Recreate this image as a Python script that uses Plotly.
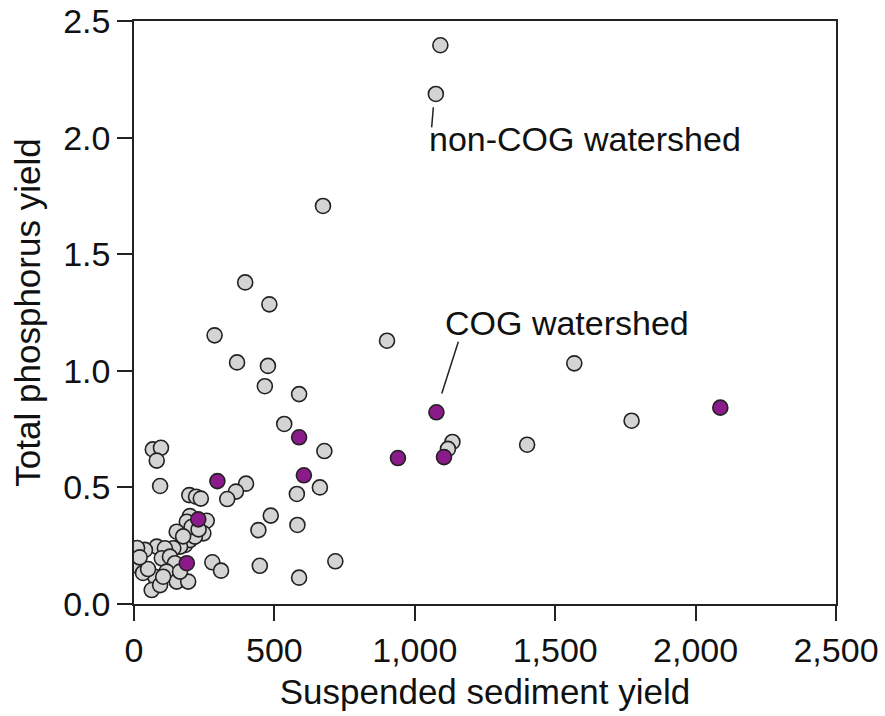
import plotly.graph_objects as go

# non-COG watersheds (gray)
noncog_x = [1091, 1075, 673, 396, 482, 287, 367, 477, 466, 588, 901, 1568, 535, 678, 662, 580,
            399, 363, 332, 487, 443, 582, 717, 448, 588, 279, 310, 1134, 1118, 1400, 1772,
            67, 96, 81, 93, 197, 221, 238, 259, 199, 188, 247, 152, 182, 199, 217, 164, 140,
            81, 110, 39, 33, 99, 128, 146, 116, 75, 63, 152, 193, 93, 104, 164,
            11, 11, 32, 50, 20, 205, 230, 175]
noncog_y = [2.396, 2.187, 1.707, 1.379, 1.285, 1.152, 1.036, 1.021, 0.934, 0.900, 1.129, 1.032, 0.772,
            0.656, 0.500, 0.472, 0.516, 0.482, 0.450, 0.379, 0.317, 0.339, 0.183, 0.164, 0.113,
            0.179, 0.143, 0.695, 0.665, 0.683, 0.786,
            0.663, 0.670, 0.615, 0.506, 0.467, 0.460, 0.452, 0.357, 0.377, 0.353, 0.303, 0.310,
            0.253, 0.274, 0.289, 0.246, 0.239, 0.246, 0.239, 0.232, 0.153, 0.196, 0.203, 0.175,
            0.139, 0.117, 0.060, 0.096, 0.096, 0.081, 0.117, 0.139,
            0.240, 0.165, 0.133, 0.150, 0.200, 0.330, 0.320, 0.290]

# COG watersheds (purple)
cog_x = [2088, 1077, 588, 605, 297, 229, 188, 940, 1104]
cog_y = [0.842, 0.822, 0.715, 0.552, 0.527, 0.363, 0.175, 0.626, 0.630]

x_ticks = [0, 500, 1000, 1500, 2000, 2500]
y_ticks = [0.0, 0.5, 1.0, 1.5, 2.0, 2.5]

FONT = "Liberation Sans, Arial, sans-serif"

fig = go.Figure()
fig.add_trace(go.Scatter(x=noncog_x, y=noncog_y, mode="markers", name="non-COG watershed",
                         marker=dict(size=15, color="#d4d4d4", line=dict(color="#222222", width=1.6))))
fig.add_trace(go.Scatter(x=cog_x, y=cog_y, mode="markers", name="COG watershed",
                         marker=dict(size=15, color="#8b1a8b", line=dict(color="#222222", width=1.6))))

# leader lines
fig.add_shape(type="line", xref="x", yref="y", x0=1096, y0=0.903, x1=1155, y1=1.125,
              line=dict(color="#222222", width=1.5))
fig.add_shape(type="line", xref="x", yref="y", x0=1066, y0=2.130, x1=1060, y1=2.044,
              line=dict(color="#222222", width=1.5))

fig.add_annotation(x=1100, y=1.205, text="COG watershed", showarrow=False, xanchor="left",
                   yanchor="middle", font=dict(size=34, color="#111111", family=FONT))
fig.add_annotation(x=1042, y=1.993, text="non-COG watershed", showarrow=False, xanchor="left",
                   yanchor="middle", font=dict(size=34, color="#111111", family=FONT))

axis_common = dict(showline=True, linecolor="#222222", linewidth=1.5, mirror=True,
                   ticks="outside", ticklen=15, tickwidth=1.5, tickcolor="#222222",
                   showgrid=False, zeroline=False,
                   tickfont=dict(size=34, color="#111111", family=FONT))

fig.update_xaxes(range=[0, 2500], tickvals=x_ticks, tickformat=",",
                 title=dict(text="Suspended sediment yield", font=dict(size=35, color="#111111", family=FONT), standoff=12),
                 **axis_common)
fig.update_yaxes(range=[0, 2.5], tickvals=y_ticks, tickformat=".1f",
                 title=dict(text="Total phosphorus yield", font=dict(size=35, color="#111111", family=FONT), standoff=12),
                 **axis_common)

fig.update_layout(width=885, height=716, margin=dict(l=134, r=49, t=21, b=112, autoexpand=False),
                  plot_bgcolor="white", paper_bgcolor="white", showlegend=False,
                  font=dict(family=FONT))

fig.write_html("out.html")
